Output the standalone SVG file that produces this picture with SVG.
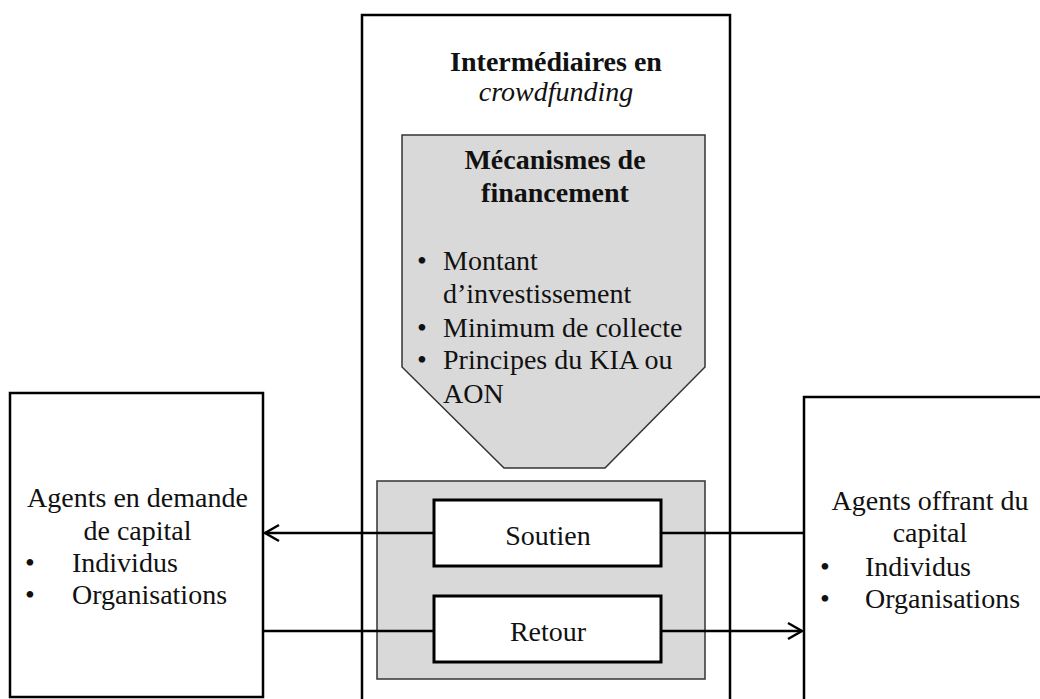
<svg xmlns="http://www.w3.org/2000/svg" width="1040" height="699" viewBox="0 0 1040 699">
<defs>
<style>
.box{fill:#fff;stroke:#000;stroke-width:2.5}
.gray{fill:#d9d9d9;stroke:#333;stroke-width:1.5}
.inner{fill:#fff;stroke:#000;stroke-width:3}
.t{font-family:"Liberation Serif","Times New Roman",serif;font-size:28px;fill:#111}
.b{font-weight:bold}
.c{text-anchor:middle}
.ln{fill:none;stroke:#000;stroke-width:2.5}
</style>
<marker id="arr" markerWidth="18" markerHeight="20" refX="16" refY="10" orient="auto" markerUnits="userSpaceOnUse">
<path d="M2,2 L16,10 L2,18" fill="none" stroke="#000" stroke-width="2.5"/>
</marker>
</defs>
<rect width="1040" height="699" fill="#fff"/>
<g id="intermediaires">
<rect class="box" x="362" y="15" width="368" height="700"/>
<text class="t b c" x="556" y="71">Intermédiaires en</text>
<text class="t c" x="556" y="101" font-style="italic">crowdfunding</text>
</g>
<g id="mecanismes">
<polygon class="gray" points="402,135 705,135 705,367 605,468 504,468 402,367"/>
<text class="t b c" x="555" y="169">Mécanismes de</text>
<text class="t b c" x="555" y="202">financement</text>
<text class="t" x="417" y="270">•</text><text class="t" x="443" y="270">Montant</text>
<text class="t" x="443" y="303">d’investissement</text>
<text class="t" x="417" y="337">•</text><text class="t" x="443" y="337">Minimum de collecte</text>
<text class="t" x="417" y="369">•</text><text class="t" x="443" y="369">Principes du KIA ou</text>
<text class="t" x="443" y="403">AON</text>
</g>
<g id="flux">
<rect class="gray" x="377" y="481" width="328" height="198"/>
</g>
<g id="demande">
<rect class="box" x="10" y="393" width="253" height="304"/>
<text class="t c" x="137.5" y="507">Agents en demande</text>
<text class="t c" x="137.5" y="540">de capital</text>
<text class="t" x="25" y="572">•</text><text class="t" x="72" y="572">Individus</text>
<text class="t" x="25" y="604">•</text><text class="t" x="72" y="604">Organisations</text>
</g>
<g id="offrant">
<rect class="box" x="804" y="397" width="260" height="320"/>
<text class="t c" x="930" y="510">Agents offrant du</text>
<text class="t c" x="930" y="542">capital</text>
<text class="t" x="820" y="576">•</text><text class="t" x="865" y="576">Individus</text>
<text class="t" x="820" y="608">•</text><text class="t" x="865" y="608">Organisations</text>
</g>
<g id="connectors">
<line class="ln" x1="804" y1="533" x2="265" y2="533" marker-end="url(#arr)"/>
<line class="ln" x1="263" y1="631" x2="802" y2="631" marker-end="url(#arr)"/>
</g>
<g id="soutien">
<rect class="inner" x="434" y="500" width="227" height="66"/>
<text class="t c" x="548" y="545">Soutien</text>
</g>
<g id="retour">
<rect class="inner" x="434" y="596" width="227" height="66"/>
<text class="t c" x="548" y="641">Retour</text>
</g>
</svg>
